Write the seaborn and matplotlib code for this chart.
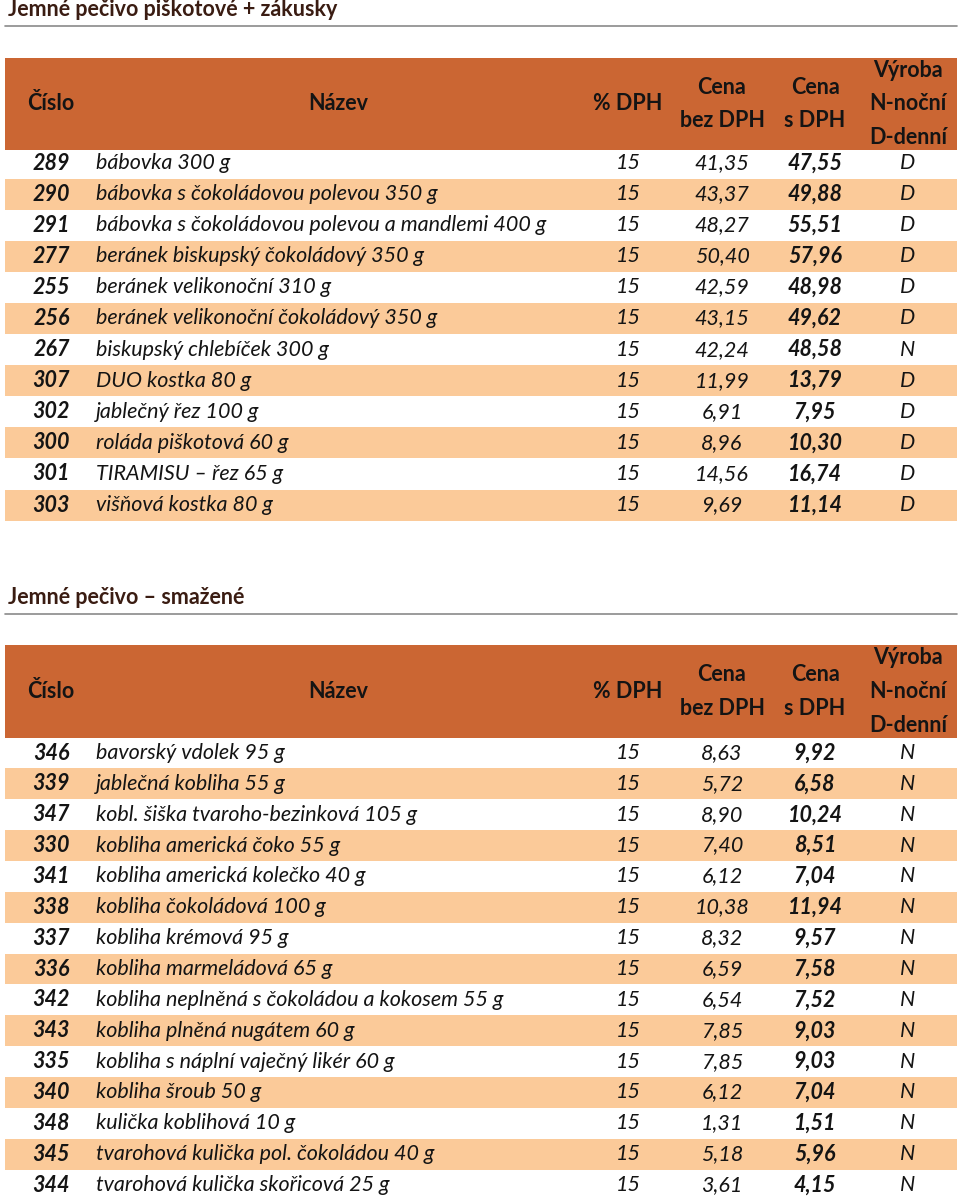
import matplotlib
matplotlib.use("Agg")
import matplotlib.pyplot as plt
import seaborn as sns

# --- data -------------------------------------------------------------
title1 = "Jemné pečivo piškotové + zákusky"
nums1 = [289, 290, 291, 277, 255, 256, 267, 307, 302, 300, 301, 303]
names1 = ["bábovka 300 g", "bábovka s čokoládovou polevou 350 g",
          "bábovka s čokoládovou polevou a mandlemi 400 g",
          "beránek biskupský čokoládový 350 g", "beránek velikonoční 310 g",
          "beránek velikonoční čokoládový 350 g", "biskupský chlebíček 300 g",
          "DUO kostka 80 g", "jablečný řez 100 g", "roláda piškotová 60 g",
          "TIRAMISU – řez 65 g", "višňová kostka 80 g"]
vat1 = [15] * 12
bez1 = [41.35, 43.37, 48.27, 50.40, 42.59, 43.15, 42.24, 11.99, 6.91, 8.96, 14.56, 9.69]
sdph1 = [47.55, 49.88, 55.51, 57.96, 48.98, 49.62, 48.58, 13.79, 7.95, 10.30, 16.74, 11.14]
prod1 = ["D", "D", "D", "D", "D", "D", "N", "D", "D", "D", "D", "D"]

title2 = "Jemné pečivo – smažené"
nums2 = [346, 339, 347, 330, 341, 338, 337, 336, 342, 343, 335, 340, 348, 345, 344]
names2 = ["bavorský vdolek 95 g", "jablečná kobliha 55 g",
          "kobl. šiška tvaroho-bezinková 105 g", "kobliha americká čoko 55 g",
          "kobliha americká kolečko 40 g", "kobliha čokoládová 100 g",
          "kobliha krémová 95 g", "kobliha marmeládová 65 g",
          "kobliha neplněná s čokoládou a kokosem 55 g",
          "kobliha plněná nugátem 60 g", "kobliha s náplní vaječný likér 60 g",
          "kobliha šroub 50 g", "kulička koblihová 10 g",
          "tvarohová kulička pol. čokoládou 40 g",
          "tvarohová kulička skořicová 25 g"]
vat2 = [15] * 15
bez2 = [8.63, 5.72, 8.90, 7.40, 6.12, 10.38, 8.32, 6.59, 6.54, 7.85, 7.85, 6.12, 1.31, 5.18, 3.61]
sdph2 = [9.92, 6.58, 10.24, 8.51, 7.04, 11.94, 9.57, 7.58, 7.52, 9.03, 9.03, 7.04, 1.51, 5.96, 4.15]
prod2 = ["N"] * 15

headers = ["Číslo", "Název", "% DPH", "Cena\nbez DPH", "Cena\ns DPH", "Výroba\nN-noční\nD-denní"]

# --- style ------------------------------------------------------------
sns.set_theme(style="white")
plt.rcParams["font.family"] = ["Lato", "DejaVu Sans"]

ORANGE = "#CB6633"
PEACH = "#FBCA99"
TXT = "#141414"
TITLE = "#3A1C12"
FS = 15.5

fig = plt.figure(figsize=(9.6, 11.99), dpi=100)
ax = fig.add_axes([0, 0, 1, 1])
ax.set_xlim(0, 960)
ax.set_ylim(1199, 0)
ax.axis("off")

X_LEFT, X_RIGHT = 5, 957
COL_X = [27, 338, 628, 722, 815, 908]


def fmt(v):
    return f"{v:.2f}".replace(".", ",")


def draw_table(title, title_y, head_top, head_bot, row0, row_h, nums, names, vat, bez, sdph, prod):
    ax.text(8, title_y, title, fontsize=15.5, color=TITLE, fontweight="bold",
            va="center", ha="left")
    ax.plot([X_LEFT, X_RIGHT], [title_y + 16, title_y + 16], color="#8a8a8a", lw=1.2)
    ax.barh([(head_top + head_bot) / 2], [X_RIGHT - X_LEFT], left=X_LEFT,
            height=head_bot - head_top, color=ORANGE, linewidth=0)
    hy = (head_top + head_bot) / 2
    for i, h in enumerate(headers):
        ha = "left" if i == 0 else "center"
        ax.text(COL_X[i], hy, h, fontsize=FS, color=TXT, fontweight="bold",
                ha=ha, va="center", linespacing=1.75)
    ys = [row0 + k * row_h for k in range(len(nums))]
    stripe_y = [y for k, y in enumerate(ys) if k % 2 == 1]
    ax.barh(stripe_y, [X_RIGHT - X_LEFT] * len(stripe_y), left=X_LEFT,
            height=row_h, color=PEACH, linewidth=0)
    for k, y in enumerate(ys):
        ax.text(70, y, str(nums[k]), fontsize=FS, color=TXT, fontweight="bold",
                style="italic", ha="right", va="center")
        ax.text(96, y, names[k], fontsize=FS, color=TXT, style="italic",
                ha="left", va="center")
        ax.text(COL_X[2], y, str(vat[k]), fontsize=FS, color=TXT, style="italic",
                ha="center", va="center")
        ax.text(COL_X[3], y, fmt(bez[k]), fontsize=FS, color=TXT, style="italic",
                ha="center", va="center")
        ax.text(COL_X[4], y, fmt(sdph[k]), fontsize=FS, color=TXT, style="italic",
                fontweight="bold", ha="center", va="center")
        ax.text(COL_X[5], y, prod[k], fontsize=FS, color=TXT, style="italic",
                ha="center", va="center")


draw_table(title1, 10, 58, 150, 163, 31.1, nums1, names1, vat1, bez1, sdph1, prod1)
draw_table(title2, 598, 645, 738, 753, 30.86, nums2, names2, vat2, bez2, sdph2, prod2)

fig.savefig("out.png", dpi=100)
